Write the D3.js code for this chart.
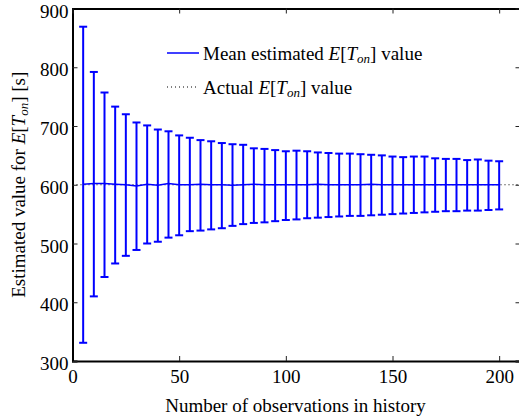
<!DOCTYPE html>
<html>
<head>
<meta charset="utf-8">
<script src="https://cdn.jsdelivr.net/npm/d3@7"></script>
<style>
  html, body { margin: 0; padding: 0; background: #fff; }
  svg { display: block; }
  text { font-family: "Liberation Serif", "Times New Roman", serif; fill: #000; }
</style>
</head>
<body>
<svg id="chart" width="519" height="416"></svg>
<script>
// Number of past observations used for each estimate
const observations = [5,10,15,20,25,30,35,40,45,50,55,60,65,70,75,80,85,90,95,100,
  105,110,115,120,125,130,135,140,145,150,155,160,165,170,175,180,185,190,195,200];

// Mean of the estimated E[T_on] (seconds)
const meanEstimate = [601,602,602,601,600,598,601,599,602,600,600,601,600,600,599,600,601,600,600,600,
  600,600,601,600,600,600,600,601,600,600,600,600,600,600,600,600,600,600,600,600];

// Upper and lower ends of the error bars (seconds)
const upperBound = [869,792,757,733,720,706,701,694,691,684,680,676,674,671,669,668,662,661,659,657,
  658,657,655,654,653,653,652,651,650,648,647,648,648,645,644,644,642,643,641,640];
const lowerBound = [331,410,443,466,479,489,500,503,510,514,521,522,524,526,530,533,535,536,538,540,
  541,543,544,545,546,547,547,548,549,550,551,552,553,554,555,555,556,556,557,558];

// Actual E[T_on] value
const actualValue = 600;

const xTicks = [0, 50, 100, 150, 200];
const yTicks = [300, 400, 500, 600, 700, 800, 900];

const svg = d3.select("#chart");
const x = d3.scaleLinear().domain([0, 210]).range([72.5, 520.5]);
const y = d3.scaleLinear().domain([300, 900]).range([361, 8.5]);

const blue = "#0000ff";
const tickLen = 5;
const fontSize = "19px";
const subSize = "13px";

// Actual value: dotted reference line
svg.append("line")
  .attr("x1", x(0)).attr("x2", x(210))
  .attr("y1", y(actualValue)).attr("y2", y(actualValue))
  .attr("stroke", "#000").attr("stroke-width", 1)
  .attr("stroke-dasharray", "1,3");

// Error bars
const bars = svg.append("g").attr("stroke", blue).attr("stroke-width", 2).attr("fill", "none");
observations.forEach((n, i) => {
  const cx = x(n);
  bars.append("line").attr("x1", cx).attr("x2", cx)
    .attr("y1", y(upperBound[i])).attr("y2", y(lowerBound[i]));
  bars.append("line").attr("x1", cx - 4).attr("x2", cx + 4)
    .attr("y1", y(upperBound[i])).attr("y2", y(upperBound[i]));
  bars.append("line").attr("x1", cx - 4).attr("x2", cx + 4)
    .attr("y1", y(lowerBound[i])).attr("y2", y(lowerBound[i]));
});

// Mean estimate line
svg.append("path")
  .datum(observations.map((n, i) => [n, meanEstimate[i]]))
  .attr("fill", "none").attr("stroke", blue).attr("stroke-width", 1.5)
  .attr("d", d3.line().x(d => x(d[0])).y(d => y(d[1])));

// Axes box with inward ticks on all sides
const bottomAxis = d3.axisBottom(x).tickValues(xTicks).tickSize(-tickLen).tickPadding(9);
const leftAxis = d3.axisLeft(y).tickValues(yTicks).tickSize(-tickLen).tickPadding(4);
const topAxis = d3.axisTop(x).tickValues(xTicks).tickSize(-tickLen).tickFormat("");
const rightAxis = d3.axisRight(y).tickValues(yTicks).tickSize(-tickLen).tickFormat("");

function style(g) {
  g.select(".domain").attr("stroke", "#000").attr("stroke-width", 2);
  g.selectAll(".tick line").attr("stroke", "#222").attr("stroke-width", 1);
  g.selectAll(".tick text").style("font-family", "Liberation Serif, serif").style("font-size", fontSize).attr("fill", "#000");
}

svg.append("g").attr("transform", `translate(0,${y(300)})`).call(bottomAxis).call(style);
svg.append("g").attr("transform", `translate(${x(0)},0)`).call(leftAxis).call(style)
  .selectAll(".tick text").attr("dy", "0.45em");
svg.append("g").attr("transform", `translate(0,${y(900)})`).call(topAxis).call(style);
svg.append("g").attr("transform", `translate(${x(210)},0)`).call(rightAxis).call(style);

// Axis titles
svg.append("text")
  .attr("x", 295.5).attr("y", 412)
  .attr("text-anchor", "middle").style("font-size", fontSize)
  .text("Number of observations in history");

const yTitle = svg.append("text")
  .attr("transform", `translate(25,${(y(300) + y(900)) / 2}) rotate(-90)`)
  .attr("text-anchor", "middle").style("font-size", fontSize);
yTitle.append("tspan").text("Estimated value for ");
yTitle.append("tspan").style("font-style", "italic").text("E");
yTitle.append("tspan").text("[");
yTitle.append("tspan").style("font-style", "italic").text("T");
yTitle.append("tspan").style("font-style", "italic").style("font-size", subSize).attr("dy", 3).text("on");
yTitle.append("tspan").attr("dy", -3).text("] [s]");

// Legend
const legend = svg.append("g");
const rows = [
  { y: 53, dash: null, color: blue, width: 1.5, label: "Mean estimated " },
  { y: 87, dash: "1,3", color: "#000", width: 1, label: "Actual " }
];
rows.forEach(r => {
  legend.append("line").attr("x1", 167).attr("x2", 199)
    .attr("y1", r.y).attr("y2", r.y)
    .attr("stroke", r.color).attr("stroke-width", r.width)
    .attr("stroke-dasharray", r.dash);
  const t = legend.append("text").attr("x", 203).attr("y", r.y + 7).style("font-size", fontSize);
  t.append("tspan").text(r.label);
  t.append("tspan").style("font-style", "italic").text("E");
  t.append("tspan").text("[");
  t.append("tspan").style("font-style", "italic").text("T");
  t.append("tspan").style("font-style", "italic").style("font-size", subSize).attr("dy", 3).text("on");
  t.append("tspan").attr("dy", -3).text("] value");
});
</script>
</body>
</html>
